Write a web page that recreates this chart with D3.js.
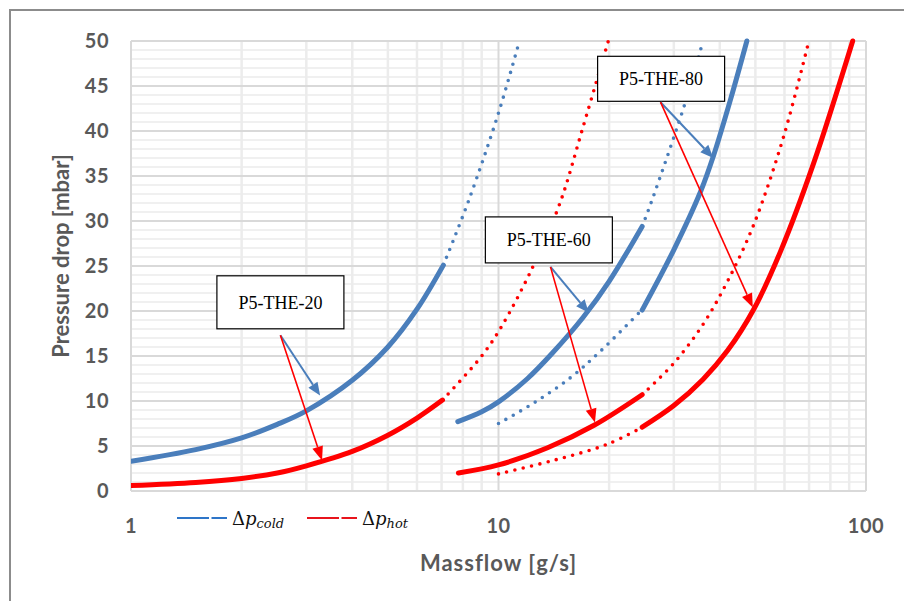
<!DOCTYPE html>
<html>
<head>
<meta charset="utf-8">
<script src="https://cdn.jsdelivr.net/npm/d3@7"></script>
<style>
  body { margin: 0; background: #fff; }
  svg { display: block; }
  .tick-label { font-family: Lato, "Open Sans", sans-serif; font-weight: bold; fill: #595959; font-size: 20px; letter-spacing: 0.5px; }
  .axis-title { font-family: Lato, "Open Sans", sans-serif; font-weight: bold; fill: #595959; font-size: 22px; }
  .box-text { font-family: "Liberation Serif", "Times New Roman", serif; font-size: 18px; fill: #000; }
  .leg-text { font-family: "DejaVu Serif", "Liberation Serif", serif; font-style: italic; fill: #111; }
</style>
</head>
<body>
<svg id="chart" width="904" height="601"></svg>
<script>
// ticks
const xTicks = [1, 10, 100];
const yTicks = [0, 5, 10, 15, 20, 25, 30, 35, 40, 45, 50];

// massflow [g/s], pressure drop [mbar]
const the20Cold    = [[1, 3.3], [1.5, 4.6], [2, 5.9], [2.5, 7.4], [3, 8.9], [4, 12.3], [5, 16.0], [6, 20.2], [7.08, 25.1]];
const the20ColdExt = [[7.08, 25.1], [8.3, 32.3], [10, 42], [11.4, 50]];
const the20Hot     = [[1, 0.6], [1.5, 0.95], [2, 1.4], [2.5, 2.0], [3, 2.8], [4, 4.4], [5, 6.2], [6, 8.1], [7.04, 10.1]];
const the20HotExt  = [[7.04, 10.1], [8.92, 14.8], [10.1, 18.0], [12.4, 24.9], [14.7, 32], [17, 40.5], [19.9, 50]];

const the60Cold    = [[7.75, 7.7], [9, 8.8], [10, 9.9], [12, 12.5], [14, 15.3], [17, 19.3], [20, 23.3], [24.6, 29.4]];
const the60ColdExt = [[24.6, 29.4], [26, 32], [32.6, 43.8], [36, 50]];
const the60Hot     = [[7.78, 2.0], [10, 2.9], [13.6, 4.8], [18.2, 7.3], [24.6, 10.7]];
const the60HotExt  = [[24.6, 10.7], [30, 14.2], [36, 18.5], [42, 23.3], [49.5, 29.6], [59.6, 39.3], [69.9, 50]];

const the80ColdLead = [[10, 7.5], [12.5, 9.8], [15.7, 12.6], [18.9, 15.5], [24.4, 20.0]];
const the80Cold     = [[24.6, 20.1], [30, 26.8], [35.5, 33.3], [38.5, 37.3], [43, 43.8], [47.4, 50]];
const the80HotLead  = [[10, 1.9], [14.1, 3.4], [19.8, 5.2], [24.4, 7.0]];
const the80Hot      = [[24.6, 7.1], [30, 9.5], [36, 12.4], [42, 15.6], [49.5, 20.2], [58.5, 26.6], [72, 36.4], [92, 50]];

// label boxes: centre of box (data), arrow start, blue / red targets (data)
const labels = [
  { name: "P5-THE-20", at: [2.55, 20.3], from: [2.55, 17.3], cold: [3.27, 10.6], hot: [3.31, 3.4], h: 53, dy: -6 },
  { name: "P5-THE-60", at: [13.71, 27.9], from: [13.85, 24.9], cold: [17.6, 19.8], hot: [18.3, 7.6], h: 46, dy: 0 },
  { name: "P5-THE-80", at: [27.7, 45.8], from: [27.6, 43.2], cold: [38.4, 37.0], hot: [49.2, 20.4], h: 45, dy: 0 }
];

const blue = "#4a7ebb", red = "#ff0000";

const svg = d3.select("#chart");
const margin = { top: 41, right: 38, bottom: 110, left: 131 };
const width = 904 - margin.left - margin.right;
const height = 601 - margin.top - margin.bottom;

// outer frame
svg.append("rect")
  .attr("x", 10).attr("y", 10).attr("width", 920).attr("height", 620)
  .attr("fill", "none").attr("stroke", "#8c8c8c").attr("stroke-width", 2);

const g = svg.append("g").attr("transform", `translate(${margin.left}, ${margin.top})`);

const x = d3.scaleLog().domain([1, 100]).range([0, width]);
const y = d3.scaleLinear().domain([0, 50]).range([height, 0]);

// grid: minor horizontal every 1 mbar
g.append("g").selectAll("line")
  .data(d3.range(1, 50).filter(d => d % 5 !== 0))
  .enter().append("line")
  .attr("x1", 0).attr("x2", width)
  .attr("y1", d => y(d)).attr("y2", d => y(d))
  .attr("stroke", "#f0f0f0").attr("stroke-width", 2);

// minor vertical log lines
const minorX = [];
[1, 10].forEach(dec => { for (let k = 2; k <= 9; k++) minorX.push(k * dec); });
g.append("g").selectAll("line")
  .data(minorX)
  .enter().append("line")
  .attr("x1", d => x(d)).attr("x2", d => x(d))
  .attr("y1", 0).attr("y2", height)
  .attr("stroke", "#ececec").attr("stroke-width", 2.5);

// major horizontal
g.append("g").selectAll("line")
  .data(yTicks)
  .enter().append("line")
  .attr("x1", 0).attr("x2", width)
  .attr("y1", d => y(d)).attr("y2", d => y(d))
  .attr("stroke", "#d9d9d9").attr("stroke-width", 2);

// major vertical
g.append("g").selectAll("line")
  .data(xTicks)
  .enter().append("line")
  .attr("x1", d => x(d)).attr("x2", d => x(d))
  .attr("y1", 0).attr("y2", height)
  .attr("stroke", "#d9d9d9").attr("stroke-width", 2);

// tick labels
g.append("g").selectAll("text")
  .data(yTicks)
  .enter().append("text")
  .attr("class", "tick-label")
  .attr("x", -22).attr("y", d => y(d))
  .attr("dy", "0.36em")
  .attr("text-anchor", "end")
  .text(d => d);

g.append("g").selectAll("text")
  .data(xTicks)
  .enter().append("text")
  .attr("class", "tick-label")
  .attr("x", d => x(d)).attr("y", height + 42)
  .attr("text-anchor", "middle")
  .text(d => d);

// axis titles
g.append("text")
  .attr("class", "axis-title")
  .attr("transform", `translate(${-62}, ${height / 2 - 10}) rotate(-90)`)
  .attr("text-anchor", "middle")
  .text("Pressure drop [mbar]");

g.append("text")
  .attr("class", "axis-title")
  .attr("x", width / 2).attr("y", height + 80)
  .attr("text-anchor", "middle")
  .style("letter-spacing", "1px")
  .text("Massflow [g/s]");

// curves
svg.append("defs").append("clipPath").attr("id", "plot")
  .append("rect").attr("x", 0).attr("y", -4).attr("width", width).attr("height", height + 8);

const line = d3.line()
  .x(d => x(d[0]))
  .y(d => y(d[1]))
  .curve(d3.curveCatmullRom.alpha(0.5));

const curves = g.append("g").attr("clip-path", "url(#plot)");

const solid = [[the20Cold, blue], [the20Hot, red], [the60Cold, blue], [the60Hot, red], [the80Cold, blue], [the80Hot, red]];
const dotted = [[the20ColdExt, blue], [the20HotExt, red], [the60ColdExt, blue], [the60HotExt, red], [the80ColdLead, blue], [the80HotLead, red]];

dotted.forEach(([data, color]) => {
  curves.append("path")
    .datum(data)
    .attr("d", line)
    .attr("fill", "none")
    .attr("stroke", color)
    .attr("stroke-width", 3.6)
    .attr("stroke-linecap", "round")
    .attr("stroke-dasharray", "0 8.5");
});

solid.forEach(([data, color]) => {
  curves.append("path")
    .datum(data)
    .attr("d", line)
    .attr("fill", "none")
    .attr("stroke", color)
    .attr("stroke-width", 5)
    .attr("stroke-linecap", "round");
});

// arrows
const drawArrow = (p0, p1, color, w, headL, headW) => {
  const x0 = x(p0[0]), y0 = y(p0[1]), x1 = x(p1[0]), y1 = y(p1[1]);
  const ang = Math.atan2(y1 - y0, x1 - x0);
  const bx = x1 - headL * Math.cos(ang), by = y1 - headL * Math.sin(ang);
  g.append("line")
    .attr("x1", x0).attr("y1", y0).attr("x2", bx).attr("y2", by)
    .attr("stroke", color).attr("stroke-width", w);
  const nx = -Math.sin(ang) * headW / 2, ny = Math.cos(ang) * headW / 2;
  g.append("path")
    .attr("d", `M${x1},${y1} L${bx + nx},${by + ny} L${bx - nx},${by - ny} Z`)
    .attr("fill", color);
};

labels.forEach(l => {
  const cx = x(l.at[0]), cy = y(l.at[1]);
  g.append("rect")
    .attr("x", cx - 63.5).attr("y", cy - l.h / 2 + l.dy)
    .attr("width", 127).attr("height", l.h)
    .attr("fill", "#fff").attr("stroke", "#000").attr("stroke-width", 1.2);
  g.append("text")
    .attr("class", "box-text")
    .attr("x", cx).attr("y", cy + (l.dy < 0 ? -6 : 0))
    .attr("dy", "0.35em")
    .attr("text-anchor", "middle")
    .text(l.name);
  drawArrow(l.from, l.cold, blue, 2, 13, 11);
  drawArrow(l.from, l.hot, red, 1.6, 14, 11);
});

// legend
const legend = svg.append("g").attr("transform", "translate(177, 518)");
const legItems = [
  { color: "#2e75c8", sub: "cold", x: 0 },
  { color: "#e8141c", sub: "hot", x: 130 }
];
legItems.forEach(it => {
  legend.append("line")
    .attr("x1", it.x).attr("x2", it.x + 50)
    .attr("y1", 0).attr("y2", 0)
    .attr("stroke", it.color).attr("stroke-width", 2)
    .attr("stroke-dasharray", "32 2.5 17");
  const t = legend.append("text")
    .attr("class", "leg-text")
    .attr("x", it.x + 55).attr("y", 7)
    .attr("font-size", 18);
  t.append("tspan").attr("font-style", "normal").text("Δ");
  t.append("tspan").text("p");
  t.append("tspan").attr("font-size", 13).attr("dy", 3).text(it.sub);
});
</script>
</body>
</html>
